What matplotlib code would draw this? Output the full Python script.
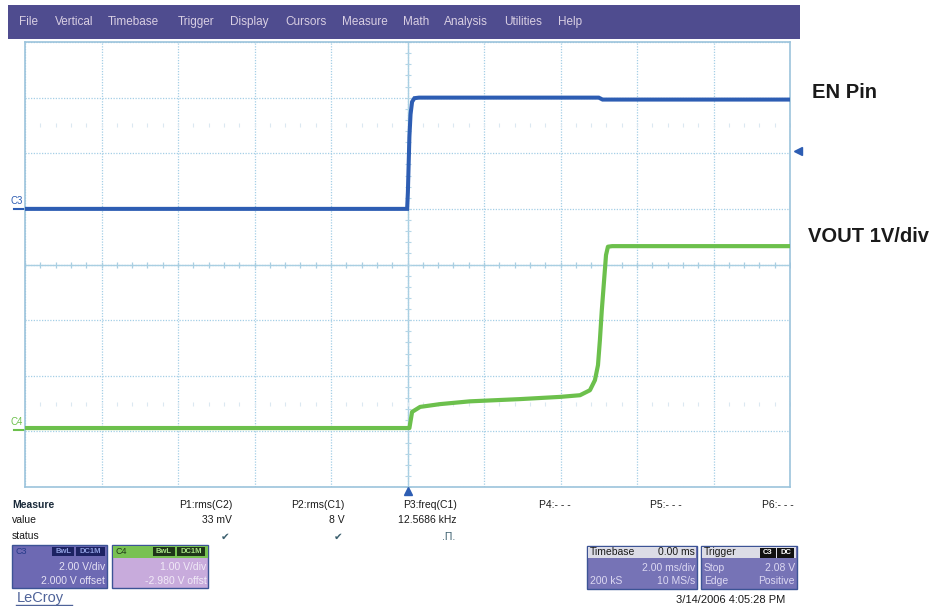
import numpy as np
import matplotlib
matplotlib.use("Agg")
import matplotlib.pyplot as plt
from matplotlib.patches import Rectangle

plt.rcParams['font.family'] = ['Liberation Sans', 'DejaVu Sans']

# scope settings
time_div = 2.0          # ms/div
c3_scale, c3_offset = 2.0, 2.0      # V/div, V
c4_scale, c4_offset = 1.0, -2.980   # V/div, V
trig_level = 2.08
trig_time = 0.0

# C3 : EN pin (ms, V)
en_time = [-10.0, -0.01, 0.01, 0.03, 0.05, 0.08, 0.12, 0.18, 0.3, 5.0, 5.1, 10.0]
en_volt = [0.0, 0.0, 0.6, 1.6, 2.6, 3.4, 3.85, 3.98, 4.0, 4.0, 3.93, 3.93]

# C4 : VOUT (ms, V)
vout_time = [-10.0, 0.05, 0.12, 0.33, 0.85, 1.63, 2.94, 3.99, 4.51, 4.77, 4.90,
             4.98, 5.03, 5.08, 5.14, 5.19, 5.24, 5.35, 10.0]
vout_volt = [0.04, 0.04, 0.33, 0.42, 0.47, 0.52, 0.56, 0.60, 0.63, 0.72, 0.90,
             1.17, 1.62, 2.16, 2.70, 3.15, 3.30, 3.31, 3.31]

menu_items = ['File', 'Vertical', 'Timebase', 'Trigger', 'Display', 'Cursors',
              'Measure', 'Math', 'Analysis', 'Utilities', 'Help']
menu_x = [19, 55, 108, 178, 230, 285, 342, 403, 444, 504, 558]

meas_names = ['P1:rms(C2)', 'P2:rms(C1)', 'P3:freq(C1)', 'P4:- - -', 'P5:- - -', 'P6:- - -']
meas_values = ['33 mV', '8 V', '12.5686 kHz', '', '', '']
meas_status = ['\u2714', '\u2714', '.\u03a0.', '', '', '']
meas_x = [232, 345, 457, 571, 682, 794]

blue = '#2d5db3'
green = '#6cc04c'
grid_c = '#a4cfe6'

fig = plt.figure(figsize=(9.35, 6.06), dpi=100)
W, H = 935, 606
ax = fig.add_axes([25 / W, 1 - 487 / H, 765 / W, 445 / H], zorder=1)
ax.set_xlim(-5 * time_div, 5 * time_div)
ax.set_ylim(-4, 4)
ax.set_xticks([])
ax.set_yticks([])
for s in ax.spines.values():
    s.set_color('#9cc4dc')
    s.set_linewidth(1.2)

# graticule
for xv in np.arange(-5, 6) * time_div:
    ax.axvline(xv, color=grid_c, lw=0.9, ls=(0, (1, 1.2)), zorder=1)
for yv in np.arange(-4, 5):
    ax.axhline(yv, color=grid_c, lw=0.9, ls=(0, (1, 1.2)), zorder=1)
ax.axhline(0, color='#a9cfe2', lw=1.0, zorder=1)
ax.axvline(0, color='#a9cfe2', lw=1.0, zorder=1)
minor_x = np.arange(-25, 26) * time_div / 5
minor_y = np.arange(-20, 21) / 5
ax.plot(minor_x, np.zeros_like(minor_x), ls='none', marker='|', ms=5, color='#a9cfe2', mew=0.9, zorder=1)
ax.plot(np.zeros_like(minor_y), minor_y, ls='none', marker='_', ms=4, color='#b5d6e7', mew=0.8, zorder=1)
for yrow in [2.5, -2.5]:
    ax.plot(minor_x, np.full_like(minor_x, yrow), ls='none', marker='|', ms=3.5,
            color='#dbe8f1', mew=0.8, zorder=1)

# traces
en_div = (np.array(en_volt) + c3_offset) / c3_scale
vout_div = (np.array(vout_volt) + c4_offset) / c4_scale
ax.plot(en_time, en_div, color=blue, lw=2.9, solid_joinstyle='miter', zorder=3)
ax.plot(vout_time, vout_div, color=green, lw=3.0, zorder=3)

# trigger markers
ax.plot([trig_time], [-4.08], marker='^', ms=6, color=blue, clip_on=False, zorder=4)
ax.plot([10.22], [(trig_level + c3_offset) / c3_scale], marker='<', ms=6, color=blue,
        clip_on=False, zorder=4)

# channel ground markers
c3_zero = c3_offset / c3_scale
c4_zero = c4_offset / c4_scale
ax.plot([-10.3, -10.02], [c3_zero, c3_zero], color=blue, lw=1.5, clip_on=False)
ax.plot([-10.3, -10.02], [c4_zero, c4_zero], color=green, lw=1.5, clip_on=False)
ax.text(-10.37, c3_zero + 0.06, 'C3', color=blue, fontsize=7, va='bottom', ha='left')
ax.text(-10.37, c4_zero + 0.06, 'C4', color=green, fontsize=7, va='bottom', ha='left')

# overlay for the scope GUI (pixel coordinates)
ov = fig.add_axes([0, 0, 1, 1], zorder=2)
ov.set_xlim(0, W)
ov.set_ylim(H, 0)
ov.axis('off')
ov.patch.set_alpha(0)

ov.add_patch(Rectangle((8, 5), 792, 34, fc='#4f4c8f', ec='none'))
for name, x in zip(menu_items, menu_x):
    ov.text(x, 22, name, color='#d9cfe3', fontsize=8.5, va='center', ha='left')

ov.text(812, 92, 'EN Pin', fontsize=14.5, fontweight='bold', va='center', color='#1a1a1a')
ov.text(808, 236, 'VOUT 1V/div', fontsize=14.5, fontweight='bold', va='center', color='#1a1a1a')

# measure table
ov.text(12, 505, 'Measure', fontsize=7.5, fontweight='bold', va='center', color='#1a2a3a')
ov.text(12, 520, 'value', fontsize=7.5, va='center', color='#1a1a1a')
ov.text(12, 536, 'status', fontsize=7.5, va='center', color='#1a1a1a')
for name, val, st, x in zip(meas_names, meas_values, meas_status, meas_x):
    ov.text(x, 505, name, fontsize=7.5, ha='right', va='center', color='#1a1a1a')
    ov.text(x, 520, val, fontsize=7.5, ha='right', va='center', color='#1a1a1a')
    ov.text(x - 2, 537, st, fontsize=7.5, ha='right', va='center', color='#3b5f6e')


def badge(x, y, w, h, text, fc, tc):
    ov.add_patch(Rectangle((x, y), w, h, fc=fc, ec='none'))
    ov.text(x + w / 2, y + h / 2, text, fontsize=5.5, fontweight='bold', color=tc,
            ha='center', va='center')


# C3 box
ov.add_patch(Rectangle((12, 545), 95, 43, fc='#6d69b3', ec='#3c5395', lw=1))
ov.text(15, 551, 'C3', fontsize=6.5, color='#263a8a', va='center')
badge(52, 547, 22, 9, 'BwL', '#1c2262', '#8e9ee0')
badge(76, 547, 29, 9, 'DC1M', '#1c2262', '#8e9ee0')
ov.text(105, 567, '2.00 V/div', fontsize=7.5, ha='right', va='center', color='#e6e2f4')
ov.text(105, 581, '2.000 V offset', fontsize=7.5, ha='right', va='center', color='#e6e2f4')

# C4 box
ov.add_patch(Rectangle((112, 545), 96, 43, fc='#c8abdc', ec='#3c5395', lw=1))
ov.add_patch(Rectangle((112.5, 545.5), 95, 12, fc='#78c152', ec='none'))
ov.text(115, 551, 'C4', fontsize=6.5, color='#203a18', va='center')
badge(153, 547, 22, 9, 'BwL', '#1f3518', '#a6e184')
badge(177, 547, 28, 9, 'DC1M', '#1f3518', '#a6e184')
ov.text(206, 567, '1.00 V/div', fontsize=7.5, ha='right', va='center', color='#f1eaf7')
ov.text(207, 581, '-2.980 V offst', fontsize=7.5, ha='right', va='center', color='#f1eaf7')

# timebase box
ov.add_patch(Rectangle((587, 546), 110, 43, fc='#7673b6', ec='#3c5395', lw=1))
ov.add_patch(Rectangle((588, 547), 108, 11, fc='#dcdce6', ec='none'))
ov.text(590, 552, 'Timebase', fontsize=7.5, va='center', color='#1a1a1a')
ov.text(695, 552, '0.00 ms', fontsize=7.5, va='center', ha='right', color='#1a1a1a')
ov.text(695, 568, '2.00 ms/div', fontsize=7.5, va='center', ha='right', color='#dcd8f2')
ov.text(590, 581, '200 kS', fontsize=7.5, va='center', color='#dcd8f2')
ov.text(695, 581, '10 MS/s', fontsize=7.5, va='center', ha='right', color='#dcd8f2')

# trigger box
ov.add_patch(Rectangle((701, 546), 96, 43, fc='#7673b6', ec='#3c5395', lw=1))
ov.add_patch(Rectangle((702, 547), 94, 11, fc='#dcdce6', ec='none'))
ov.text(704, 552, 'Trigger', fontsize=7.5, va='center', color='#1a1a1a')
badge(760, 547.5, 16, 10, 'C3', '#111111', '#ffffff')
badge(777, 547.5, 17, 10, 'DC', '#111111', '#ffffff')
ov.text(704, 568, 'Stop', fontsize=7.5, va='center', color='#dcd8f2')
ov.text(795, 568, '2.08 V', fontsize=7.5, va='center', ha='right', color='#dcd8f2')
ov.text(704, 581, 'Edge', fontsize=7.5, va='center', color='#dcd8f2')
ov.text(795, 581, 'Positive', fontsize=7.5, va='center', ha='right', color='#dcd8f2')

ov.text(785, 600, '3/14/2006 4:05:28 PM', fontsize=8, ha='right', va='center', color='#1a1a1a')
ov.text(17, 598, 'LeCroy', fontsize=10.5, va='center', color='#4f6399')
ov.plot([16, 72], [605, 605], color='#4f6399', lw=1)

fig.savefig('out.png', dpi=100)
